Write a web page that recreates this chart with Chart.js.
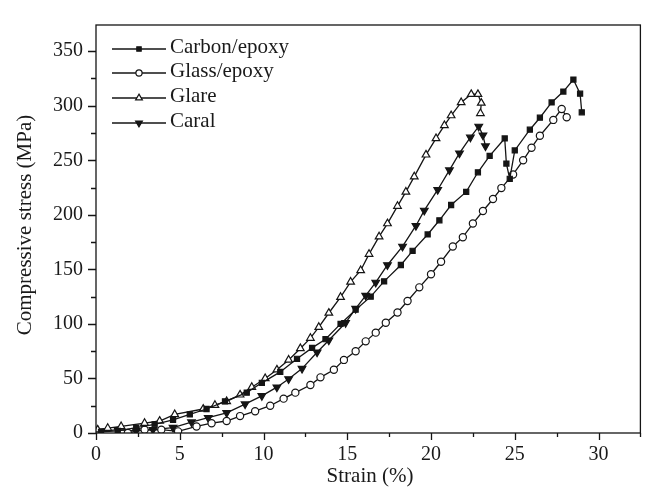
<!DOCTYPE html>
<html>
<head>
<meta charset="utf-8">
<script src="https://cdn.jsdelivr.net/npm/chart.js@4.4.1/dist/chart.umd.min.js"></script>
<style>
  html, body { margin: 0; padding: 0; background: #fff; }
  #wrap { width: 646px; height: 488px; }
</style>
</head>
<body>
<div id="wrap"><canvas id="chart" width="646" height="488"></canvas></div>
<script>
// strain (%) and compressive stress (MPa)
var carbonStrain = [0.3, 1.3, 2.4, 3.5, 4.6, 5.6, 6.6, 7.7, 9.0, 9.9, 11.0, 12.0, 12.9, 13.7, 14.6, 15.5, 16.4, 17.2, 18.2, 18.9, 19.8, 20.5, 21.2, 22.1, 22.8, 23.5, 24.4, 24.5, 24.7, 25.0, 25.9, 26.5, 27.2, 27.9, 28.5, 28.9, 29.0];
var carbonStress = [1, 2, 5, 8, 12, 17, 22, 29, 37, 46, 56, 68, 78, 86, 100, 113, 125, 139, 154, 167, 182, 195, 209, 221, 239, 254, 270, 247, 233, 259, 278, 289, 303, 313, 324, 311, 294];

var glassStrain = [1.9, 2.9, 3.9, 4.9, 6.0, 6.9, 7.8, 8.6, 9.5, 10.4, 11.2, 11.9, 12.8, 13.4, 14.2, 14.8, 15.5, 16.1, 16.7, 17.3, 18.0, 18.6, 19.3, 20.0, 20.6, 21.3, 21.9, 22.5, 23.1, 23.7, 24.2, 24.9, 25.5, 26.0, 26.5, 27.3, 27.8, 28.1];
var glassStress = [0, 3, 3, 1.5, 6, 9, 11, 15.5, 20, 25, 31.5, 37, 44, 51, 58, 67, 75, 84, 92, 101, 110.5, 121, 133.5, 145.5, 157, 171, 179.5, 192, 203.5, 214.5, 224.5, 237, 250, 261.5, 272.5, 287, 297, 289.5];

var glareStrain = [0.1, 0.7, 1.5, 2.9, 3.8, 4.7, 6.4, 7.1, 7.8, 8.6, 9.3, 10.1, 10.8, 11.5, 12.2, 12.8, 13.3, 13.9, 14.6, 15.2, 15.8, 16.3, 16.9, 17.4, 18.0, 18.5, 19.0, 19.7, 20.3, 20.8, 21.2, 21.8, 22.4, 22.8, 23.0, 22.95];
var glareStress = [3, 4.5, 6, 9, 11, 17, 22, 25.5, 29, 35, 42, 50, 58, 67, 77.5, 87, 97, 110, 124.5, 138.5, 149, 164, 180, 192, 208, 221, 235, 255, 270, 282, 291, 303, 310.5, 310.5, 302.5, 293];

var caralStrain = [0.3, 1.3, 2.4, 3.4, 4.6, 5.7, 6.7, 7.8, 8.9, 9.9, 10.8, 11.5, 12.3, 13.2, 13.9, 14.9, 15.5, 16.1, 16.7, 17.4, 18.3, 19.1, 19.6, 20.4, 21.1, 21.7, 22.35, 22.85, 23.1, 23.25];
var caralStress = [1.5, 3, 2, 3, 5, 10, 14, 18.5, 26.5, 34, 42, 49.5, 59, 74, 85, 101, 114, 126, 138, 154, 171, 190, 204, 223, 241, 256.5, 271, 281, 273, 263];

var seriesNames = ['Carbon/epoxy', 'Glass/epoxy', 'Glare', 'Caral'];
var xTicks = [0, 5, 10, 15, 20, 25, 30];
var yTicks = [0, 50, 100, 150, 200, 250, 300, 350];

function pts(xs, ys) {
    return xs.map(function (x, i) { return {x: x, y: ys[i]}; });
}

var INK = '#151515';
var SERIF = '"Liberation Serif", "Times New Roman", serif';

function series(label, xs, ys, style, fill, rot, r) {
    return {
        label: label,
        data: pts(xs, ys),
        borderColor: INK,
        borderWidth: 1.3,
        pointStyle: style,
        pointRotation: rot || 0,
        pointRadius: r,
        pointBorderWidth: 1.2,
        pointBorderColor: INK,
        pointBackgroundColor: fill,
        tension: 0,
        fill: false
    };
}

// frame, tick marks, axis titles, legend (line + marker)
var decor = {
    id: 'decor',
    afterDraw: function (chart) {
        var c = chart.ctx, a = chart.chartArea;
        var xs = chart.scales.x, ys = chart.scales.y;
        c.save();
        c.strokeStyle = INK;
        c.lineWidth = 1.3;
        c.strokeRect(a.left, a.top, a.right - a.left, a.bottom - a.top);
        c.beginPath();
        for (var v = 0; v <= 32.5; v += 2.5) {
            var px = Math.round(xs.getPixelForValue(v)) + 0.5;
            var len = (v % 5 === 0) ? 7 : 4;
            c.moveTo(px, a.bottom); c.lineTo(px, a.bottom + len);
        }
        for (var w = 0; w <= 350; w += 25) {
            var py = Math.round(ys.getPixelForValue(w)) + 0.5;
            var l2 = (w % 50 === 0) ? 8 : 5;
            c.moveTo(a.left, py); c.lineTo(a.left - l2, py);
        }
        c.stroke();

        c.fillStyle = '#1a1a1a';
        c.font = '21px ' + SERIF;
        c.textAlign = 'center';
        c.textBaseline = 'middle';
        c.fillText('Strain (%)', 370, 476);
        c.translate(25, 225);
        c.rotate(-Math.PI / 2);
        c.fillText('Compressive stress (MPa)', 0, 0);
        c.restore();

        c.save();
        var rows = [49, 73, 98, 123];
        chart.data.datasets.forEach(function (ds, i) {
            var y = rows[i];
            c.strokeStyle = INK;
            c.lineWidth = 1.3;
            c.beginPath();
            c.moveTo(112, y); c.lineTo(166, y);
            c.stroke();
            c.lineWidth = 1.2;
            c.fillStyle = ds.pointBackgroundColor;
            Chart.helpers.drawPoint(c, {
                pointStyle: ds.pointStyle,
                rotation: ds.pointRotation,
                radius: ds.pointRadius - 0.5,
                borderWidth: 1.2
            }, 139, y);
            c.fillStyle = '#1a1a1a';
            c.font = '21px ' + SERIF;
            c.textAlign = 'left';
            c.textBaseline = 'alphabetic';
            c.fillText(ds.label, 170, y + 4);
        });
        c.restore();
    }
};

var ctx = document.getElementById('chart');
new Chart(ctx, {
    type: 'line',
    data: {
        datasets: [
            series(seriesNames[0], carbonStrain, carbonStress, 'rect', INK, 0, 3.6),
            series(seriesNames[1], glassStrain, glassStress, 'circle', '#fff', 0, 3.6),
            series(seriesNames[2], glareStrain, glareStress, 'triangle', '#fff', 0, 4.4),
            series(seriesNames[3], caralStrain, caralStress, 'triangle', INK, 180, 4.4)
        ]
    },
    options: {
        responsive: false,
        animation: false,
        layout: { padding: { left: 0, right: 3, top: 12, bottom: 0 } },
        plugins: { legend: { display: false }, tooltip: { enabled: false } },
        scales: {
            x: {
                type: 'linear',
                min: 0,
                max: 32.5,
                grid: { display: false, drawTicks: false },
                border: { display: false },
                afterFit: function (s) { s.height = 55; },
                afterBuildTicks: function (s) { s.ticks = xTicks.map(function (v) { return {value: v}; }); },
                ticks: { padding: 10, color: '#1a1a1a', font: { family: SERIF, size: 20 }, maxRotation: 0 }
            },
            y: {
                min: 0,
                max: 374,
                grid: { display: false, drawTicks: false },
                border: { display: false },
                afterFit: function (s) { s.width = 96; },
                afterBuildTicks: function (s) { s.ticks = yTicks.map(function (v) { return {value: v}; }); },
                ticks: { padding: 13, color: '#1a1a1a', font: { family: SERIF, size: 20 } }
            }
        }
    },
    plugins: [decor]
});
</script>
</body>
</html>
